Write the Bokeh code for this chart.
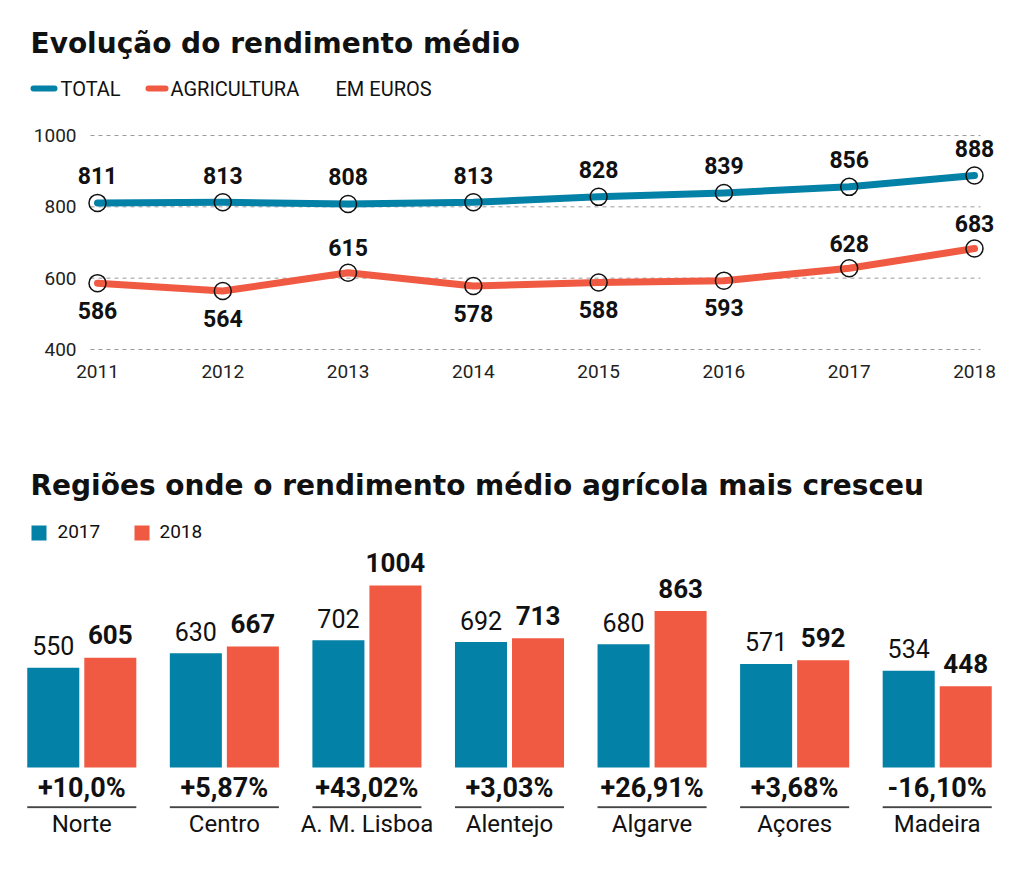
from bokeh.plotting import figure
from bokeh.models import Range1d, FixedTicker, Label, BoxAnnotation, ColumnDataSource
from bokeh.layouts import column
from bokeh.embed import file_html
from bokeh.resources import INLINE
from bokeh.core.properties import value

# ---------------- data ----------------
years = [2011, 2012, 2013, 2014, 2015, 2016, 2017, 2018]
total = [811, 813, 808, 813, 828, 839, 856, 888]
agri = [586, 564, 615, 578, 588, 593, 628, 683]
agri_label_side = ["below", "below", "above", "below", "below", "below", "above", "above"]
y_ticks = [400, 600, 800, 1000]

regions = ["Norte", "Centro", "A. M. Lisboa", "Alentejo", "Algarve", "Açores", "Madeira"]
v2017 = [550, 630, 702, 692, 680, 571, 534]
v2018 = [605, 667, 1004, 713, 863, 592, 448]
change = ["+10,0%", "+5,87%", "+43,02%", "+3,03%", "+26,91%", "+3,68%", "-16,10%"]

# ---------------- style ----------------
FONT = "Roboto"
TITLE_FONT = "DejaVu Sans"
BLUE = "#0481a6"
ORANGE = "#f05a42"
INK = "#111111"


def header(height):
    h = figure(width=1024, height=height, x_range=Range1d(0, 1024), y_range=Range1d(0, height),
               output_backend="svg", toolbar_location=None,
               x_axis_location=None, y_axis_location=None,
               min_border_left=0, min_border_right=0, min_border_top=0, min_border_bottom=0,
               outline_line_color=None, background_fill_color="white", border_fill_color="white")
    h.grid.visible = False
    h.frame_align = False
    return h


def add_text(fig, height, x, y, text, size, bold=False, font=FONT):
    fig.add_layout(Label(x=x, y=height - y, x_units="screen", y_units="screen", text=text,
                         text_font=font, text_font_size=size, text_color=INK,
                         text_font_style="bold" if bold else "normal",
                         text_baseline="alphabetic"))


def add_box(fig, height, l, r, t, b, color, radius=0):
    fig.add_layout(BoxAnnotation(left=l, right=r, top=height - t, bottom=height - b,
                                 left_units="screen", right_units="screen",
                                 top_units="screen", bottom_units="screen",
                                 fill_color=color, fill_alpha=1, line_color=None,
                                 border_radius=radius))


# ================= header 1 =================
H1 = 110
h1 = header(H1)
add_text(h1, H1, 30, 43, "Evolução do rendimento médio", "28px", bold=True, font=TITLE_FONT)
add_box(h1, H1, 30, 57, 85, 91, BLUE, 3)
add_box(h1, H1, 145, 168, 85, 91, ORANGE, 3)
add_text(h1, H1, 60, 88, "TOTAL", "20px")
add_text(h1, H1, 170, 88, "AGRICULTURA", "20px")
add_text(h1, H1, 335, 88, "EM EUROS", "20px")

# ================= top chart =================
PX_YEAR = 125.29
C1_H, C1_TOP, C1_BOT, C1_LEFT, C1_RIGHT = 300, 21, 57, 76, 29
p1 = figure(width=1024, height=C1_H,
            x_range=Range1d(2011 - 21 / PX_YEAR, 2018 + 21 / PX_YEAR),
            y_range=Range1d(388.8, 1011.2),
            output_backend="svg", toolbar_location=None,
            min_border_left=C1_LEFT, min_border_right=C1_RIGHT,
            min_border_top=C1_TOP, min_border_bottom=C1_BOT,
            outline_line_color=None, background_fill_color="white",
            border_fill_color="white")
p1.frame_align = False
p1.grid.visible = False
p1.yaxis.ticker = FixedTicker(ticks=y_ticks)
p1.xaxis.ticker = FixedTicker(ticks=years)
for ax in (p1.xaxis[0], p1.yaxis[0]):
    ax.axis_line_color = None
    ax.major_tick_line_color = None
    ax.minor_tick_line_color = None
    ax.major_tick_in = 0
    ax.major_tick_out = 0
    ax.minor_tick_out = 0
    ax.major_label_text_font = FONT
    ax.major_label_text_font_size = "19px"
    ax.major_label_text_color = "#222222"
p1.yaxis.major_label_standoff = 0
p1.xaxis.major_label_standoff = 11

# dashed grid lines between the outer years (slightly beyond the first/last point)
g_x0 = years[0] - 7 / PX_YEAR
g_x1 = years[-1] + 6 / PX_YEAR
p1.segment(x0=[g_x0] * len(y_ticks), y0=y_ticks, x1=[g_x1] * len(y_ticks), y1=y_ticks,
           line_color="#9a9a9a", line_dash="4 4", line_width=1)

p1.line(years, total, line_width=7, line_color=BLUE, line_cap="round", line_join="round")
p1.line(years, agri, line_width=7, line_color=ORANGE, line_cap="round", line_join="round")
p1.scatter(years, total, size=17, fill_alpha=0, line_color=INK, line_width=1.5)
p1.scatter(years, agri, size=17, fill_alpha=0, line_color=INK, line_width=1.5)

p1.text(x=years, y=total, text=[str(v) for v in total], y_offset=-27,
        text_align="center", text_baseline="alphabetic", text_font=value(FONT),
        text_font_style="bold", text_font_size="23px", text_color=INK)
agri_src = ColumnDataSource(dict(
    x=years, y=agri, t=[str(v) for v in agri],
    off=[-25 if s == "above" else 27 for s in agri_label_side]))
p1.text(x="x", y="y", text="t", y_offset="off", source=agri_src,
        text_align="center", text_baseline="alphabetic", text_font=value(FONT),
        text_font_style="bold", text_font_size="23px", text_color=INK)

# ================= header 2 =================
H2 = 135
h2 = header(H2)
add_text(h2, H2, 30, 75, "Regiões onde o rendimento médio agrícola mais cresceu", "28px",
         bold=True, font=TITLE_FONT)
add_box(h2, H2, 31, 46, 115, 130, BLUE)
add_box(h2, H2, 134, 149, 115, 130, ORANGE)
add_text(h2, H2, 57, 121, "2017", "19px")
add_text(h2, H2, 159, 121, "2018", "19px")

# ================= bottom chart =================
PX_UNIT = 0.1813
C2_H, C2_TOP, C2_LEFT, C2_RIGHT = 326, 0, 10, 16
base_y = 767 - 545           # baseline below frame top (px)
frame_h = 808 - 545          # frame height (px)
C2_BOT = C2_H - C2_TOP - frame_h
p2 = figure(width=1024, height=C2_H,
            x_range=Range1d(-0.5, 6.5),
            y_range=Range1d(-(frame_h - base_y) / PX_UNIT, base_y / PX_UNIT),
            output_backend="svg", toolbar_location=None, y_axis_location=None,
            min_border_left=C2_LEFT, min_border_right=C2_RIGHT,
            min_border_top=C2_TOP, min_border_bottom=C2_BOT,
            outline_line_color=None, background_fill_color="white",
            border_fill_color="white")
p2.frame_align = False
p2.grid.visible = False
idx = list(range(len(regions)))
OFF, BW = 0.2, 0.365
p2.vbar(x=[i - OFF for i in idx], top=v2017, bottom=0, width=BW, fill_color=BLUE, line_color=None)
p2.vbar(x=[i + OFF for i in idx], top=v2018, bottom=0, width=BW, fill_color=ORANGE, line_color=None)
p2.text(x=[i - OFF for i in idx], y=v2017, text=[str(v) for v in v2017], y_offset=-22,
        text_align="center", text_baseline="alphabetic", text_font=value(FONT),
        text_font_size="25px", text_color=INK)
p2.text(x=[i + OFF for i in idx], y=v2018, text=[str(v) for v in v2018], y_offset=-23,
        text_align="center", text_baseline="alphabetic", text_font=value(FONT),
        text_font_style="bold", text_font_size="26px", text_color=INK)
p2.text(x=idx, y=[0] * len(idx), text=change, y_offset=20,
        text_align="center", text_baseline="alphabetic", text_font=value(FONT),
        text_font_style="bold", text_font_size="27px", text_color=INK)
UL = -39.7 / PX_UNIT
p2.segment(x0=[i - OFF - BW / 2 for i in idx], y0=[UL] * len(idx),
           x1=[i + OFF + BW / 2 for i in idx], y1=[UL] * len(idx),
           line_color="#444444", line_width=2)

ax = p2.xaxis[0]
ax.ticker = FixedTicker(ticks=idx)
ax.major_label_overrides = {i: n for i, n in zip(idx, regions)}
ax.axis_line_color = None
ax.major_tick_line_color = None
ax.minor_tick_line_color = None
ax.major_tick_in = 0
ax.major_tick_out = 0
ax.minor_tick_out = 0
ax.major_label_standoff = 1
ax.major_label_text_font = FONT
ax.major_label_text_font_size = "24px"
ax.major_label_text_color = INK

layout = column(h1, p1, h2, p2, spacing=0)
open("out.html", "w").write(file_html(layout, INLINE))
